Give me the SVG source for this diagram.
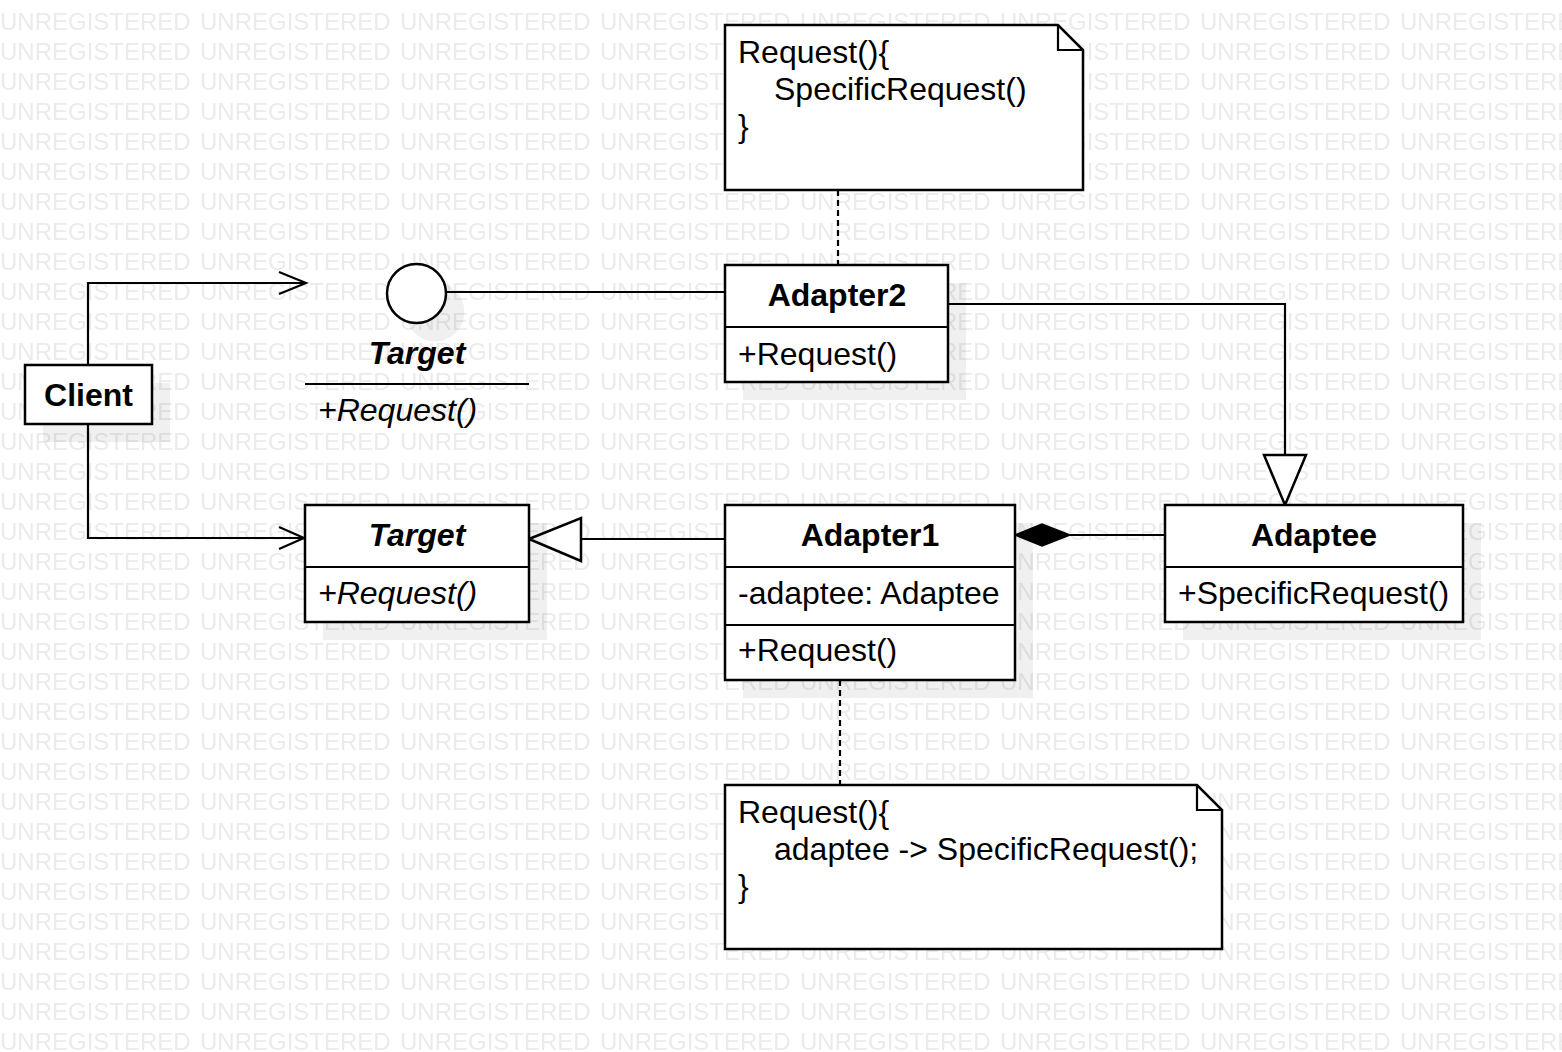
<svg xmlns="http://www.w3.org/2000/svg" width="1562" height="1052" viewBox="0 0 1562 1052">
<defs>
<pattern id="wm" patternUnits="userSpaceOnUse" x="0" y="1" width="200" height="30">
<text x="0" y="29" font-family="Liberation Sans, Arial, sans-serif" font-size="24" fill="#ebebeb">UNREGISTERED</text>
</pattern>
<style>
.box{fill:#fff;stroke:#000;stroke-width:2.5}
.sh{fill:#000;fill-opacity:0.06}
.ln{fill:none;stroke:#000;stroke-width:2.2}
.dash{fill:none;stroke:#000;stroke-width:2.2;stroke-dasharray:6 4}
.t{font-family:"Liberation Sans",Arial,sans-serif;font-size:32px;fill:#000}
.b{font-weight:bold;text-anchor:middle}
.i{font-style:italic}
</style>
</defs>
<rect width="1562" height="1052" fill="#fff"/>
<rect width="1562" height="1052" fill="url(#wm)"/>

<g id="connectors">
<path class="dash" d="M838 190 V265"/>
<path class="dash" d="M840 680 V785"/>
<path class="ln" d="M88 365 V283 H306"/>
<path class="ln" d="M279 272 L306 283 L279 294"/>
<path class="ln" d="M88 424 V538 H304"/>
<path class="ln" d="M279 527 L304 538 L279 549"/>
<path class="ln" d="M446 292 H725"/>
<path class="ln" d="M725 539 H581"/>
<path class="box" d="M529 539 L581 518 L581 561 Z" stroke-width="2.2"/>
<path class="ln" d="M1165 535 H1070"/>
<path d="M1015 535 L1042 524 L1070 535 L1042 546 Z" fill="#000" stroke="#000" stroke-width="1.5"/>
<path class="ln" d="M948 304 H1285 V455"/>
<path class="box" d="M1285 505 L1264 455 L1306 455 Z" stroke-width="2.2"/>
</g>

<g id="note1">
<path class="box" d="M725 25 H1058 L1083 50 V190 H725 Z"/>
<path class="ln" d="M1058 25 V50 H1083" stroke-width="2.5"/>
<text class="t" x="738" y="63">Request(){</text>
<text class="t" x="774" y="100">SpecificRequest()</text>
<text class="t" x="738" y="137">}</text>
</g>

<g id="adapter2">
<rect class="sh" x="743" y="283" width="223" height="117"/>
<rect class="box" x="725" y="265" width="223" height="117"/>
<line class="ln" x1="725" y1="327" x2="948" y2="327" stroke-width="2.5"/>
<text class="t b" x="837" y="306">Adapter2</text>
<text class="t" x="738" y="365">+Request()</text>
</g>

<g id="target-interface">
<circle class="sh" cx="435" cy="312" r="29.5"/>
<circle class="box" cx="416.5" cy="293.5" r="29.5"/>
<text class="t b i" x="417" y="364">Target</text>
<line class="ln" x1="305" y1="384" x2="529" y2="384"/>
<text class="t i" x="318" y="421">+Request()</text>
</g>

<g id="client">
<rect class="sh" x="43" y="383" width="127" height="59"/>
<rect class="box" x="25" y="365" width="127" height="59"/>
<text class="t b" x="88.5" y="406">Client</text>
</g>

<g id="target">
<rect class="sh" x="323" y="523" width="224" height="117"/>
<rect class="box" x="305" y="505" width="224" height="117"/>
<line class="ln" x1="305" y1="567" x2="529" y2="567" stroke-width="2.5"/>
<text class="t b i" x="417" y="546">Target</text>
<text class="t i" x="318" y="604">+Request()</text>
</g>

<g id="adapter1">
<rect class="sh" x="743" y="523" width="290" height="175"/>
<rect class="box" x="725" y="505" width="290" height="175"/>
<line class="ln" x1="725" y1="567" x2="1015" y2="567" stroke-width="2.5"/>
<line class="ln" x1="725" y1="625" x2="1015" y2="625" stroke-width="2.5"/>
<text class="t b" x="870" y="546">Adapter1</text>
<text class="t" x="738" y="604">-adaptee: Adaptee</text>
<text class="t" x="738" y="661">+Request()</text>
</g>

<g id="adaptee">
<rect class="sh" x="1183" y="523" width="298" height="117"/>
<rect class="box" x="1165" y="505" width="298" height="117"/>
<line class="ln" x1="1165" y1="567" x2="1463" y2="567" stroke-width="2.5"/>
<text class="t b" x="1314" y="546">Adaptee</text>
<text class="t" x="1178" y="604">+SpecificRequest()</text>
</g>

<g id="note2">
<path class="box" d="M725 785 H1197 L1222 810 V949 H725 Z"/>
<path class="ln" d="M1197 785 V810 H1222" stroke-width="2.5"/>
<text class="t" x="738" y="823">Request(){</text>
<text class="t" x="774" y="860">adaptee -&gt; SpecificRequest();</text>
<text class="t" x="738" y="897">}</text>
</g>
</svg>
